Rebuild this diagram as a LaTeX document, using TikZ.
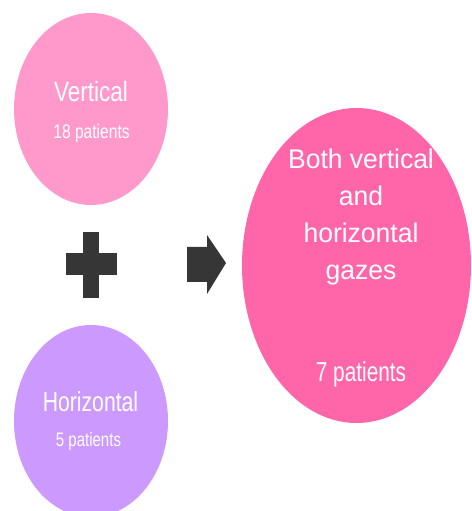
\documentclass[tikz,border=0pt]{standalone}
\usepackage{fontspec}
\setmainfont{Liberation Sans}
\usepackage{graphicx}
\definecolor{vertpink}{HTML}{FF99CC}
\definecolor{horizlilac}{HTML}{CC99FF}
\definecolor{bothpink}{HTML}{FF66AA}
\definecolor{symbolgray}{HTML}{363636}
\tikzset{
  blob/.style={draw=none},
  label text/.style={text=white, inner sep=0pt, anchor=base},
  symbol/.style={fill=symbolgray, draw=none},
}
% text of size #1 (horizontal) stretched vertically by #2
\newcommand{\gazetext}[3]{\scalebox{1}[#2]{\fontsize{#1}{#1}\selectfont #3}}
\begin{document}
\begin{tikzpicture}[x=1pt,y=1pt]
  \useasboundingbox (0,0) rectangle (471,511);

  % the two single-gaze groups
  \fill[vertpink]   (91,402) ellipse [x radius=77, y radius=96];
  \fill[horizlilac] (91,90)  ellipse [x radius=77, y radius=96];
  % the combined group
  \fill[bothpink]   (356.5,245.5) ellipse [x radius=114.5, y radius=157.5];

  \node[label text] (vert)  at (91,409)  {\gazetext{22.5}{1.24}{Vertical}};
  \node[label text] (vertn) at (91.5,372) {\gazetext{15.6}{1.26}{18 patients}};
  \node[label text] (hor)   at (90.5,99) {\gazetext{21.2}{1.3}{Horizontal}};
  \node[label text] (horn)  at (88.5,64) {\gazetext{15}{1.3}{5 patients}};

  \node[label text] (both1) at (361,342) {\gazetext{26.5}{1.02}{Both vertical}};
  \node[label text] (both2) at (361,305) {\gazetext{26.5}{1.02}{and}};
  \node[label text] (both3) at (361,268) {\gazetext{26.5}{1.02}{horizontal}};
  \node[label text] (both4) at (361,231) {\gazetext{26.5}{1.02}{gazes}};
  \node[label text] (bothn) at (361,129) {\gazetext{20.8}{1.32}{7 patients}};

  % plus sign
  \fill[symbol] (83,213) rectangle (99,279);
  \fill[symbol] (66,236) rectangle (117,258);

  % block arrow
  \fill[symbol] (187,229) -- (207,229) -- (207,217) -- (226,248)
    -- (207,276) -- (207,264) -- (187,264) -- cycle;
\end{tikzpicture}
\end{document}
